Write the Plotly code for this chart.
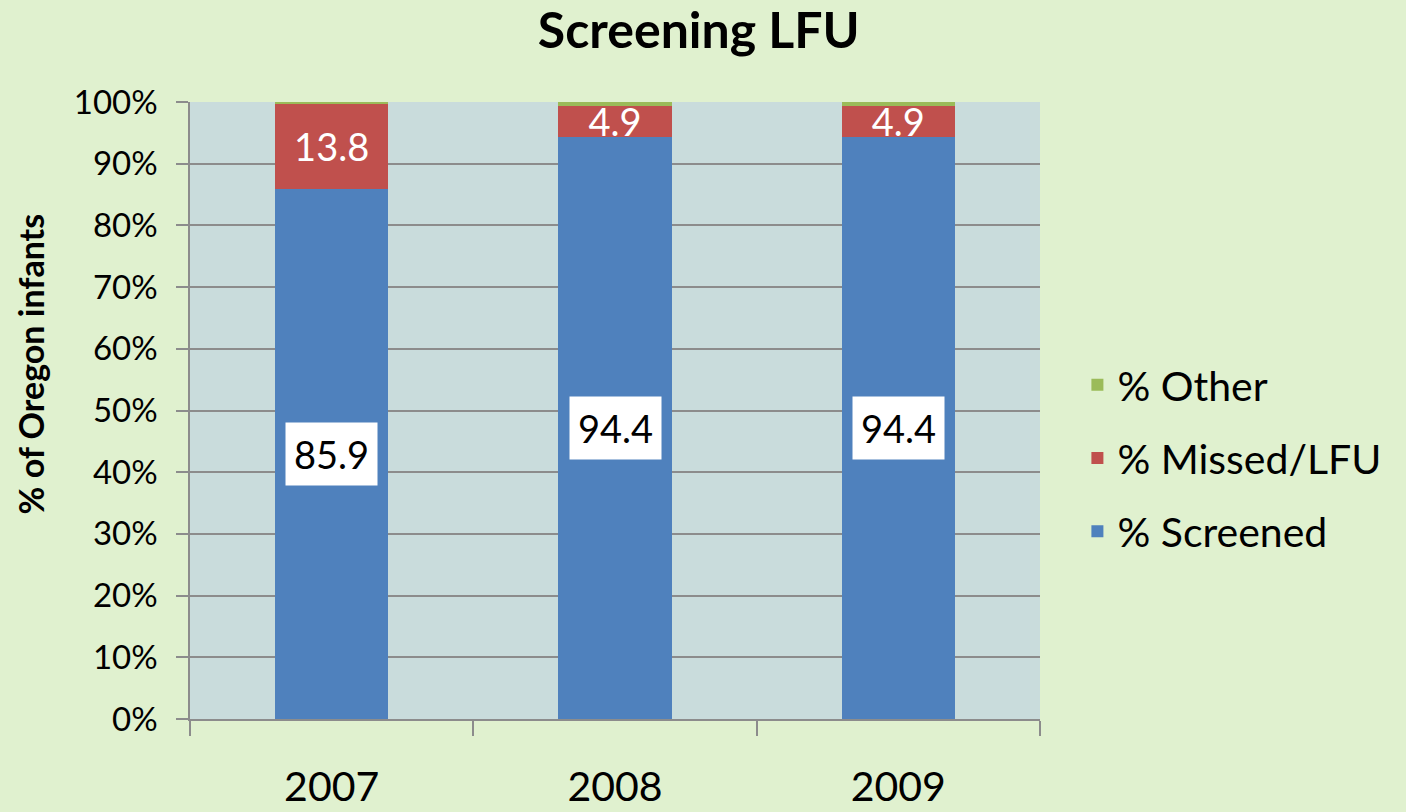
import plotly.graph_objects as go

years = ["2007", "2008", "2009"]
screened = [85.9, 94.4, 94.4]
missed = [13.8, 4.9, 4.9]
other = [0.3, 0.7, 0.7]
y_ticks = [0, 10, 20, 30, 40, 50, 60, 70, 80, 90, 100]
y_tick_labels = [f"{v}%" for v in y_ticks]

FONT = "Lato, 'Open Sans', sans-serif"
BLUE = "#4F81BD"
RED = "#C0504D"
GREEN = "#9BBB59"

fig = go.Figure()
fig.add_trace(go.Bar(name="% Screened", x=years, y=screened, marker_color=BLUE,
                     marker_line_width=0, width=0.4, legendgroup="s", legendrank=3))
fig.add_trace(go.Bar(name="% Missed/LFU", x=years, y=missed, marker_color=RED,
                     marker_line_width=0, width=0.4, legendgroup="m", legendrank=2,
                     text=[f"{v}" for v in missed], textposition="inside",
                     insidetextanchor="middle",
                     textfont=dict(color="white", size=38, family=FONT),
                     textangle=0, constraintext="none"))
fig.add_trace(go.Bar(name="% Other", x=years, y=other, marker_color=GREEN,
                     marker_line_width=0, width=0.4, legendgroup="o", legendrank=1))

for i, s in enumerate(screened):
    fig.add_annotation(x=i, y=s / 2, text=f"{s}", showarrow=False,
                       font=dict(size=38, color="black", family=FONT),
                       bgcolor="white", borderpad=8)

# y-axis title (placed as in the reference, slightly above plot centre)
fig.add_annotation(xref="paper", yref="paper", x=-0.188, y=0.575,
                   xanchor="center", yanchor="middle",
                   text="<b>% of Oregon infants</b>", textangle=-90,
                   showarrow=False, font=dict(size=34, family=FONT, color="black"))

fig.update_layout(
    barmode="stack",
    width=1406, height=812,
    paper_bgcolor="#E0F1CF",
    plot_bgcolor="#C9DCDC",
    margin=dict(l=190, r=366, t=102, b=93, autoexpand=False),
    title=dict(text="<b>Screening LFU</b>", x=0.497, xanchor="center",
               y=0.962, yanchor="middle",
               font=dict(size=50, color="black", family=FONT)),
    font=dict(family=FONT, color="black"),
    legend=dict(x=1.044, y=0.423, xanchor="left", yanchor="middle",
                traceorder="grouped", font=dict(size=41, family=FONT),
                bgcolor="rgba(0,0,0,0)", tracegroupgap=17),
    showlegend=True,
)
fig.update_xaxes(
    type="category", range=[-0.5, 2.5], automargin=False,
    showline=True, linecolor="#8C8C8C", linewidth=1.5,
    ticks="outside", tickson="boundaries", ticklen=15, tickcolor="#8C8C8C",
    tickwidth=1.5, tickfont=dict(size=41, family=FONT),
    ticklabelstandoff=31, showgrid=False,
)
fig.update_yaxes(
    range=[0, 100], tickvals=y_ticks, ticktext=y_tick_labels, automargin=False,
    showline=True, linecolor="#8C8C8C", linewidth=1.5,
    ticks="outside", ticklen=12, tickcolor="#8C8C8C", tickwidth=1.5,
    tickfont=dict(size=33, family=FONT), ticklabelstandoff=12,
    showgrid=True, gridcolor="#8C8C8C", gridwidth=1.5,
    zeroline=False,
)

fig.write_html("out.html", config={"displayModeBar": False},
               post_script="document.body.style.margin='0';")
